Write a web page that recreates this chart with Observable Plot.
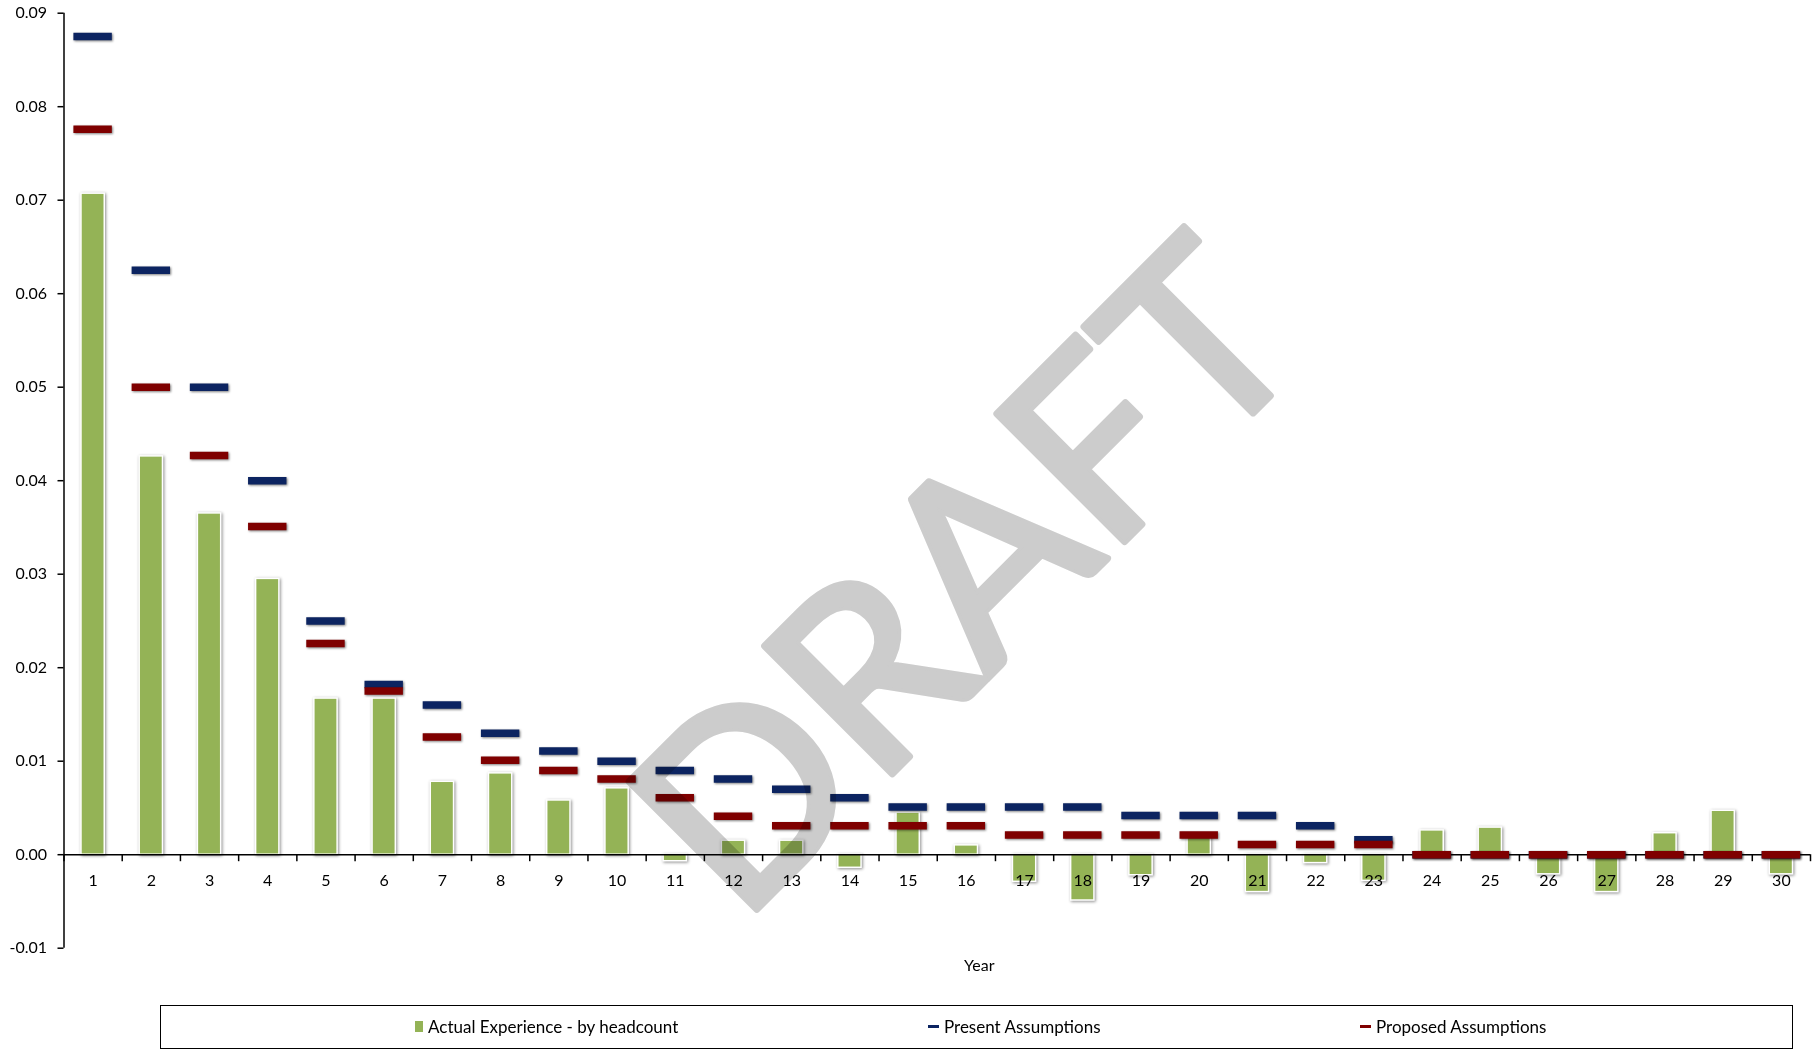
<!DOCTYPE html>
<html>
<head>
<meta charset="utf-8">
<script src="https://cdn.jsdelivr.net/npm/d3@7"></script>
<script src="https://cdn.jsdelivr.net/npm/@observablehq/plot@0.6"></script>
<style>
  html, body { margin: 0; padding: 0; background: #fff; }
  body { width: 1813px; height: 1050px; position: relative; overflow: hidden; font-family: Lato, "Open Sans", sans-serif; }
  #chart { position: absolute; left: 0; top: 0; }
  #legend { position: absolute; left: 160px; top: 1005px; width: 1633px; height: 44px; box-sizing: border-box; border: 1.5px solid #000; background: #fff; }
  .item { position: absolute; top: 0; height: 41px; display: flex; align-items: center; font-size: 17px; color: #000; white-space: nowrap; }
  .sw { display: inline-block; margin-right: 5px; }
</style>
</head>
<body>
<div id="chart"></div>
<div id="legend"></div>
<script>
// ---- data ----
const years = [1,2,3,4,5,6,7,8,9,10,11,12,13,14,15,16,17,18,19,20,21,22,23,24,25,26,27,28,29,30];
const actual = [0.0707, 0.0426, 0.0365, 0.0295, 0.0167, 0.0167, 0.0078, 0.0087, 0.0058, 0.0071,
                -0.0007, 0.0015, 0.0015, -0.0014, 0.0045, 0.0010, -0.0029, -0.0049, -0.0022, 0.0021,
                -0.0040, -0.0009, -0.0028, 0.0026, 0.0029, -0.0021, -0.0040, 0.0023, 0.0047, -0.0021];
const present = [0.0875, 0.0625, 0.0500, 0.0400, 0.0250, 0.0182, 0.0160, 0.0130, 0.0111, 0.0100,
                 0.0090, 0.0081, 0.0070, 0.0061, 0.0051, 0.0051, 0.0051, 0.0051, 0.0042, 0.0042,
                 0.0042, 0.0031, 0.0016, 0, 0, 0, 0, 0, 0, 0];
const proposed = [0.0776, 0.0500, 0.0427, 0.0351, 0.0226, 0.0175, 0.0126, 0.0101, 0.0090, 0.0081,
                  0.0061, 0.0041, 0.0031, 0.0031, 0.0031, 0.0031, 0.0021, 0.0021, 0.0021, 0.0021,
                  0.0011, 0.0011, 0.0011, 0, 0, 0, 0, 0, 0, 0];
const yTicks = [-0.01, 0, 0.01, 0.02, 0.03, 0.04, 0.05, 0.06, 0.07, 0.08, 0.09];
const seriesNames = ["Actual Experience - by headcount", "Present Assumptions", "Proposed Assumptions"];
const seriesColors = ["#94b356", "#0c2461", "#7f0000"];
const xTitle = "Year";
const watermark = "DRAFT";

// ---- table ----
const rows = years.map((year, i) => ({year, actual: actual[i], present: present[i], proposed: proposed[i]}));
const bounds = [years[0] - 0.5, ...years.map(y => y + 0.5)];
const barHalf = 0.2, dashHalf = 0.33;

const chart = Plot.plot({
  width: 1813,
  height: 1000,
  marginLeft: 63.5,
  marginRight: 3,
  marginTop: 12.7,
  marginBottom: 52.3,
  x: {type: "linear", domain: [years[0] - 0.5, years[years.length - 1] + 0.5], axis: null},
  y: {domain: [-0.01, 0.09], label: null},
  style: {fontFamily: "Lato, 'Open Sans', sans-serif", fontSize: "16px", color: "#000", background: "#fff", overflow: "visible"},
  marks: [
    Plot.rectY(rows, {x1: d => d.year - barHalf, x2: d => d.year + barHalf, y1: 0, y2: "actual",
      fill: seriesColors[0], stroke: "#ffffff", strokeWidth: 1.5}),
    Plot.ruleX([years[0] - 0.5], {stroke: "#000", strokeWidth: 1.5}),
    Plot.ruleY([0], {stroke: "#000", strokeWidth: 1.5}),
    Plot.ruleX(bounds, {x: d => d, y1: 0, y2: 0, insetBottom: -7, stroke: "#000", strokeWidth: 1.5}),
    Plot.axisY(yTicks, {tickSize: 6, tickPadding: 11, tickFormat: d => d.toFixed(2), label: null, fontSize: 16, stroke: "#000", strokeWidth: 1.5}),
    Plot.text(rows, {x: "year", y: 0, dy: 26, text: d => String(d.year), fontSize: 16, fill: "#000"}),
    Plot.ruleY(rows, {y: "present", x1: d => d.year - dashHalf, x2: d => d.year + dashHalf,
      stroke: seriesColors[1], strokeWidth: 7.5}),
    Plot.ruleY(rows, {y: "proposed", x1: d => d.year - dashHalf, x2: d => d.year + dashHalf,
      stroke: seriesColors[2], strokeWidth: 7.5}),
    Plot.text([xTitle], {frameAnchor: "bottom", dx: 42, dy: 23, fontSize: 16, fill: "#000"}),
    Plot.text([watermark], {frameAnchor: "middle", dx: 33, dy: 101, rotate: -45, fontSize: 252,
      fill: "#cccccc", stroke: "#cccccc", strokeWidth: 7, strokeLinejoin: "round", mixBlendMode: "multiply"})
  ]
});
document.getElementById("chart").appendChild(chart);

// subtle Excel-like shadows
const svg = d3.select(chart);
svg.selectAll('g[aria-label="rect"]').style("filter", "drop-shadow(1px 1px 1.5px rgba(0,0,0,0.45))");
svg.selectAll('g[aria-label="rule"]').filter(function () {
  const s = this.getAttribute("stroke");
  return s === seriesColors[1] || s === seriesColors[2];
}).style("filter", "drop-shadow(1px 1px 1.2px rgba(0,0,0,0.5))");

// ---- legend ----
const legend = document.getElementById("legend");
const itemLeft = [254, 767, 1199];
seriesNames.forEach((name, i) => {
  const it = document.createElement("div");
  it.className = "item";
  it.style.left = itemLeft[i] + "px";
  const sw = document.createElement("span");
  sw.className = "sw";
  sw.style.background = seriesColors[i];
  if (i === 0) { sw.style.width = "8px"; sw.style.height = "11px"; }
  else { sw.style.width = "11px"; sw.style.height = "3px"; }
  it.appendChild(sw);
  it.appendChild(document.createTextNode(name));
  legend.appendChild(it);
});
</script>
</body>
</html>
